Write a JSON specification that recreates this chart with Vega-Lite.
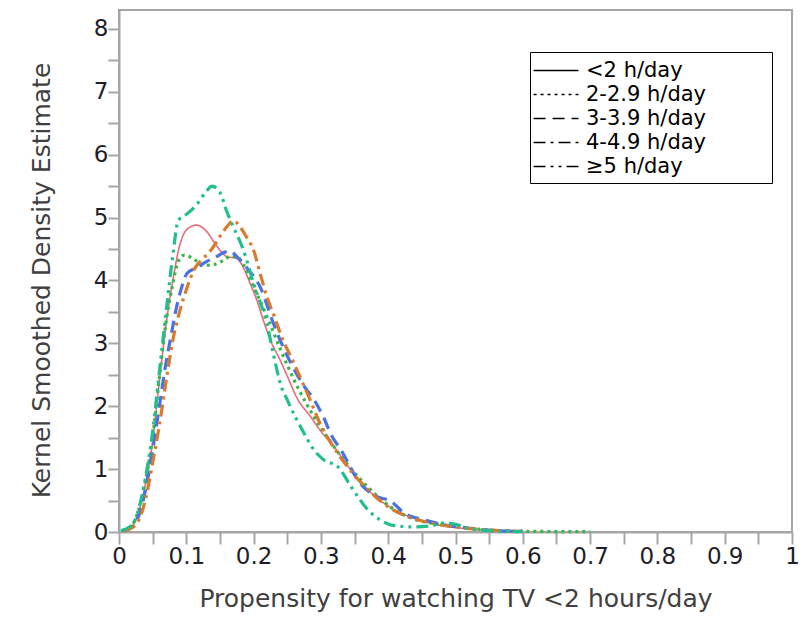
{
  "$schema": "https://vega.github.io/schema/vega-lite/v6.json",
  "autosize": {"type": "none"},
  "width": 673,
  "height": 522,
  "padding": {"left": 119, "top": 10, "right": 19, "bottom": 96},
  "background": "white",
  "config": {
    "view": {"stroke": "#a6a6a6", "strokeWidth": 2},
    "font": "DejaVu Sans",
    "axis": {
      "domainColor": "#a6a6a6", "domainWidth": 2,
      "tickColor": "#a6a6a6", "tickWidth": 2,
      "labelFont": "DejaVu Sans", "labelFontSize": 23, "labelColor": "#1e1e28",
      "titleFont": "DejaVu Sans", "titleFontSize": 25, "titleFontWeight": "normal", "titleColor": "#404040",
      "grid": false, "labelOverlap": false, "labelFlush": false
    }
  },
  "data": {"values": [
    {"g": "<2 h/day", "x": 0.005, "y": 0.02},
    {"g": "<2 h/day", "x": 0.02, "y": 0.1},
    {"g": "<2 h/day", "x": 0.03, "y": 0.35},
    {"g": "<2 h/day", "x": 0.04, "y": 0.8},
    {"g": "<2 h/day", "x": 0.05, "y": 1.45},
    {"g": "<2 h/day", "x": 0.06, "y": 2.4},
    {"g": "<2 h/day", "x": 0.07, "y": 3.3},
    {"g": "<2 h/day", "x": 0.08, "y": 4.0},
    {"g": "<2 h/day", "x": 0.09, "y": 4.55},
    {"g": "<2 h/day", "x": 0.1, "y": 4.8},
    {"g": "<2 h/day", "x": 0.115, "y": 4.88},
    {"g": "<2 h/day", "x": 0.13, "y": 4.78},
    {"g": "<2 h/day", "x": 0.145, "y": 4.55},
    {"g": "<2 h/day", "x": 0.16, "y": 4.38},
    {"g": "<2 h/day", "x": 0.175, "y": 4.35},
    {"g": "<2 h/day", "x": 0.185, "y": 4.2},
    {"g": "<2 h/day", "x": 0.195, "y": 3.95},
    {"g": "<2 h/day", "x": 0.205, "y": 3.68},
    {"g": "<2 h/day", "x": 0.215, "y": 3.35},
    {"g": "<2 h/day", "x": 0.225, "y": 3.05},
    {"g": "<2 h/day", "x": 0.24, "y": 2.72},
    {"g": "<2 h/day", "x": 0.25, "y": 2.48},
    {"g": "<2 h/day", "x": 0.265, "y": 2.12},
    {"g": "<2 h/day", "x": 0.285, "y": 1.83},
    {"g": "<2 h/day", "x": 0.3, "y": 1.6},
    {"g": "<2 h/day", "x": 0.32, "y": 1.35},
    {"g": "<2 h/day", "x": 0.34, "y": 1.05},
    {"g": "<2 h/day", "x": 0.36, "y": 0.78},
    {"g": "<2 h/day", "x": 0.38, "y": 0.57},
    {"g": "<2 h/day", "x": 0.405, "y": 0.38},
    {"g": "<2 h/day", "x": 0.43, "y": 0.25},
    {"g": "<2 h/day", "x": 0.45, "y": 0.18},
    {"g": "<2 h/day", "x": 0.48, "y": 0.1},
    {"g": "<2 h/day", "x": 0.52, "y": 0.05},
    {"g": "<2 h/day", "x": 0.56, "y": 0.02},
    {"g": "<2 h/day", "x": 0.6, "y": 0.01},

    {"g": "2-2.9 h/day", "x": 0.004, "y": 0.02},
    {"g": "2-2.9 h/day", "x": 0.02, "y": 0.12},
    {"g": "2-2.9 h/day", "x": 0.03, "y": 0.38},
    {"g": "2-2.9 h/day", "x": 0.04, "y": 0.85},
    {"g": "2-2.9 h/day", "x": 0.05, "y": 1.5},
    {"g": "2-2.9 h/day", "x": 0.06, "y": 2.45},
    {"g": "2-2.9 h/day", "x": 0.07, "y": 3.35},
    {"g": "2-2.9 h/day", "x": 0.08, "y": 3.95},
    {"g": "2-2.9 h/day", "x": 0.088, "y": 4.3},
    {"g": "2-2.9 h/day", "x": 0.096, "y": 4.4},
    {"g": "2-2.9 h/day", "x": 0.11, "y": 4.35},
    {"g": "2-2.9 h/day", "x": 0.125, "y": 4.24},
    {"g": "2-2.9 h/day", "x": 0.14, "y": 4.25},
    {"g": "2-2.9 h/day", "x": 0.155, "y": 4.32},
    {"g": "2-2.9 h/day", "x": 0.165, "y": 4.38},
    {"g": "2-2.9 h/day", "x": 0.176, "y": 4.37},
    {"g": "2-2.9 h/day", "x": 0.185, "y": 4.25},
    {"g": "2-2.9 h/day", "x": 0.2, "y": 3.9},
    {"g": "2-2.9 h/day", "x": 0.22, "y": 3.42},
    {"g": "2-2.9 h/day", "x": 0.24, "y": 2.9},
    {"g": "2-2.9 h/day", "x": 0.265, "y": 2.31},
    {"g": "2-2.9 h/day", "x": 0.29, "y": 1.83},
    {"g": "2-2.9 h/day", "x": 0.31, "y": 1.5},
    {"g": "2-2.9 h/day", "x": 0.33, "y": 1.2},
    {"g": "2-2.9 h/day", "x": 0.355, "y": 0.88},
    {"g": "2-2.9 h/day", "x": 0.385, "y": 0.56},
    {"g": "2-2.9 h/day", "x": 0.41, "y": 0.35},
    {"g": "2-2.9 h/day", "x": 0.44, "y": 0.2},
    {"g": "2-2.9 h/day", "x": 0.47, "y": 0.13},
    {"g": "2-2.9 h/day", "x": 0.5, "y": 0.09},
    {"g": "2-2.9 h/day", "x": 0.53, "y": 0.05},
    {"g": "2-2.9 h/day", "x": 0.57, "y": 0.02},
    {"g": "2-2.9 h/day", "x": 0.62, "y": 0.01},
    {"g": "2-2.9 h/day", "x": 0.7, "y": 0.005},

    {"g": "3-3.9 h/day", "x": 0.006, "y": 0.02},
    {"g": "3-3.9 h/day", "x": 0.02, "y": 0.09},
    {"g": "3-3.9 h/day", "x": 0.03, "y": 0.28},
    {"g": "3-3.9 h/day", "x": 0.04, "y": 0.7},
    {"g": "3-3.9 h/day", "x": 0.05, "y": 1.3},
    {"g": "3-3.9 h/day", "x": 0.06, "y": 2.0},
    {"g": "3-3.9 h/day", "x": 0.07, "y": 2.7},
    {"g": "3-3.9 h/day", "x": 0.077, "y": 3.1},
    {"g": "3-3.9 h/day", "x": 0.084, "y": 3.5},
    {"g": "3-3.9 h/day", "x": 0.092, "y": 3.85},
    {"g": "3-3.9 h/day", "x": 0.101, "y": 4.11},
    {"g": "3-3.9 h/day", "x": 0.115, "y": 4.2},
    {"g": "3-3.9 h/day", "x": 0.13, "y": 4.3},
    {"g": "3-3.9 h/day", "x": 0.145, "y": 4.38},
    {"g": "3-3.9 h/day", "x": 0.155, "y": 4.44},
    {"g": "3-3.9 h/day", "x": 0.165, "y": 4.47},
    {"g": "3-3.9 h/day", "x": 0.175, "y": 4.38},
    {"g": "3-3.9 h/day", "x": 0.19, "y": 4.2},
    {"g": "3-3.9 h/day", "x": 0.21, "y": 3.89},
    {"g": "3-3.9 h/day", "x": 0.23, "y": 3.3},
    {"g": "3-3.9 h/day", "x": 0.25, "y": 2.8},
    {"g": "3-3.9 h/day", "x": 0.275, "y": 2.32},
    {"g": "3-3.9 h/day", "x": 0.29, "y": 2.1},
    {"g": "3-3.9 h/day", "x": 0.305, "y": 1.8},
    {"g": "3-3.9 h/day", "x": 0.315, "y": 1.55},
    {"g": "3-3.9 h/day", "x": 0.33, "y": 1.3},
    {"g": "3-3.9 h/day", "x": 0.36, "y": 0.75},
    {"g": "3-3.9 h/day", "x": 0.38, "y": 0.58},
    {"g": "3-3.9 h/day", "x": 0.405, "y": 0.48},
    {"g": "3-3.9 h/day", "x": 0.424, "y": 0.3},
    {"g": "3-3.9 h/day", "x": 0.454, "y": 0.19},
    {"g": "3-3.9 h/day", "x": 0.48, "y": 0.12},
    {"g": "3-3.9 h/day", "x": 0.52, "y": 0.06},
    {"g": "3-3.9 h/day", "x": 0.56, "y": 0.02},
    {"g": "3-3.9 h/day", "x": 0.6, "y": 0.01},

    {"g": "4-4.9 h/day", "x": 0.008, "y": 0.02},
    {"g": "4-4.9 h/day", "x": 0.02, "y": 0.07},
    {"g": "4-4.9 h/day", "x": 0.03, "y": 0.2},
    {"g": "4-4.9 h/day", "x": 0.04, "y": 0.55},
    {"g": "4-4.9 h/day", "x": 0.05, "y": 1.1},
    {"g": "4-4.9 h/day", "x": 0.06, "y": 1.7},
    {"g": "4-4.9 h/day", "x": 0.07, "y": 2.4},
    {"g": "4-4.9 h/day", "x": 0.08, "y": 3.05},
    {"g": "4-4.9 h/day", "x": 0.09, "y": 3.5},
    {"g": "4-4.9 h/day", "x": 0.1, "y": 3.85},
    {"g": "4-4.9 h/day", "x": 0.113, "y": 4.2},
    {"g": "4-4.9 h/day", "x": 0.125, "y": 4.35},
    {"g": "4-4.9 h/day", "x": 0.138, "y": 4.5},
    {"g": "4-4.9 h/day", "x": 0.15, "y": 4.7},
    {"g": "4-4.9 h/day", "x": 0.16, "y": 4.85},
    {"g": "4-4.9 h/day", "x": 0.17, "y": 4.95},
    {"g": "4-4.9 h/day", "x": 0.18, "y": 4.85},
    {"g": "4-4.9 h/day", "x": 0.19, "y": 4.68},
    {"g": "4-4.9 h/day", "x": 0.2, "y": 4.48},
    {"g": "4-4.9 h/day", "x": 0.21, "y": 4.1},
    {"g": "4-4.9 h/day", "x": 0.22, "y": 3.73},
    {"g": "4-4.9 h/day", "x": 0.23, "y": 3.45},
    {"g": "4-4.9 h/day", "x": 0.24, "y": 3.15},
    {"g": "4-4.9 h/day", "x": 0.26, "y": 2.68},
    {"g": "4-4.9 h/day", "x": 0.28, "y": 2.2},
    {"g": "4-4.9 h/day", "x": 0.3, "y": 1.7},
    {"g": "4-4.9 h/day", "x": 0.325, "y": 1.25},
    {"g": "4-4.9 h/day", "x": 0.35, "y": 0.9},
    {"g": "4-4.9 h/day", "x": 0.375, "y": 0.62},
    {"g": "4-4.9 h/day", "x": 0.4, "y": 0.4},
    {"g": "4-4.9 h/day", "x": 0.43, "y": 0.24},
    {"g": "4-4.9 h/day", "x": 0.46, "y": 0.15},
    {"g": "4-4.9 h/day", "x": 0.5, "y": 0.08},
    {"g": "4-4.9 h/day", "x": 0.55, "y": 0.03},
    {"g": "4-4.9 h/day", "x": 0.6, "y": 0.01},

    {"g": "≥5 h/day", "x": 0.003, "y": 0.02},
    {"g": "≥5 h/day", "x": 0.02, "y": 0.12},
    {"g": "≥5 h/day", "x": 0.03, "y": 0.4},
    {"g": "≥5 h/day", "x": 0.04, "y": 0.9},
    {"g": "≥5 h/day", "x": 0.05, "y": 1.6},
    {"g": "≥5 h/day", "x": 0.06, "y": 2.55},
    {"g": "≥5 h/day", "x": 0.07, "y": 3.5},
    {"g": "≥5 h/day", "x": 0.08, "y": 4.4},
    {"g": "≥5 h/day", "x": 0.088, "y": 4.95},
    {"g": "≥5 h/day", "x": 0.1, "y": 5.05},
    {"g": "≥5 h/day", "x": 0.115, "y": 5.2},
    {"g": "≥5 h/day", "x": 0.13, "y": 5.42},
    {"g": "≥5 h/day", "x": 0.138, "y": 5.5},
    {"g": "≥5 h/day", "x": 0.15, "y": 5.4},
    {"g": "≥5 h/day", "x": 0.16, "y": 5.1},
    {"g": "≥5 h/day", "x": 0.17, "y": 4.85},
    {"g": "≥5 h/day", "x": 0.185, "y": 4.48},
    {"g": "≥5 h/day", "x": 0.2, "y": 3.95},
    {"g": "≥5 h/day", "x": 0.22, "y": 3.3},
    {"g": "≥5 h/day", "x": 0.23, "y": 2.8},
    {"g": "≥5 h/day", "x": 0.24, "y": 2.35},
    {"g": "≥5 h/day", "x": 0.25, "y": 2.1},
    {"g": "≥5 h/day", "x": 0.275, "y": 1.57},
    {"g": "≥5 h/day", "x": 0.29, "y": 1.3},
    {"g": "≥5 h/day", "x": 0.305, "y": 1.14},
    {"g": "≥5 h/day", "x": 0.325, "y": 1.04},
    {"g": "≥5 h/day", "x": 0.345, "y": 0.72},
    {"g": "≥5 h/day", "x": 0.37, "y": 0.35},
    {"g": "≥5 h/day", "x": 0.39, "y": 0.18},
    {"g": "≥5 h/day", "x": 0.405, "y": 0.11},
    {"g": "≥5 h/day", "x": 0.44, "y": 0.08},
    {"g": "≥5 h/day", "x": 0.465, "y": 0.1},
    {"g": "≥5 h/day", "x": 0.48, "y": 0.14},
    {"g": "≥5 h/day", "x": 0.497, "y": 0.13},
    {"g": "≥5 h/day", "x": 0.52, "y": 0.06},
    {"g": "≥5 h/day", "x": 0.55, "y": 0.02},
    {"g": "≥5 h/day", "x": 0.6, "y": 0.005}
  ]},
  "mark": {"type": "line", "interpolate": "monotone", "strokeCap": "butt"},
  "encoding": {
    "x": {
      "field": "x", "type": "quantitative",
      "scale": {"domain": [0, 1], "nice": false, "zero": false},
      "axis": {
        "title": "Propensity for watching TV <2 hours/day",
        "values": [0,0.05,0.1,0.15,0.2,0.25,0.3,0.35,0.4,0.45,0.5,0.55,0.6,0.65,0.7,0.75,0.8,0.85,0.9,0.95,1],
        "format": "~g",
        "labelExpr": "round(datum.value*20) % 2 == 0 ? datum.label : ''",
        "tickSize": 12,
        "labelPadding": 1,
        "titlePadding": 18,
        "encode": {"ticks": {"update": {"y2": {"signal": "round(datum.value*20) % 2 == 0 ? 12 : 5"}}}}
      }
    },
    "y": {
      "field": "y", "type": "quantitative",
      "scale": {"domain": [0, 8.3], "nice": false},
      "axis": {
        "title": "Kernel Smoothed Density Estimate",
        "values": [0,0.5,1,1.5,2,2.5,3,3.5,4,4.5,5,5.5,6,6.5,7,7.5,8],
        "format": "~g",
        "labelExpr": "round(datum.value*2) % 2 == 0 ? datum.label : ''",
        "tickSize": 11,
        "labelPadding": 0,
        "titlePadding": 39,
        "titleY": 270,
        "encode": {"ticks": {"update": {"x2": {"signal": "round(datum.value*2) % 2 == 0 ? -11 : -5"}}}}
      }
    },
    "color": {
      "field": "g", "type": "nominal", "legend": null,
      "scale": {
        "range": ["#3cb54a", "#4a72e2", "#d97a2c", "#e86c78", "#22bf8e"]
      }
    },
    "strokeWidth": {
      "condition": {"test": "datum.g == '<2 h/day'", "value": 1.6},
      "value": 3.2
    },
    "strokeDash": {
      "field": "g", "type": "nominal",
      "scale": {
        "domain": ["<2 h/day", "2-2.9 h/day", "3-3.9 h/day", "4-4.9 h/day", "≥5 h/day"],
        "range": [[1, 0], [3, 4], [12, 7], [12, 5, 3, 5], [12, 5, 3, 5, 3, 5]]
      },
      "legend": {
        "title": "\u00a0",
        "titleOrient": "right",
        "titlePadding": 60,
        "titleFontSize": 2,
        "titleColor": "white",
        "orient": "none",
        "legendX": 411,
        "legendY": 42,
        "strokeColor": "black",
        "fillColor": "white",
        "padding": 6,
        "symbolType": "M-1.3,0H2.6",
        "symbolSize": 529,
        "symbolStrokeWidth": 1.3,
        "symbolStrokeColor": "black",
        "labelFont": "DejaVu Sans",
        "labelFontSize": 21,
        "labelColor": "black",
        "labelOffset": 25,
        "labelLimit": 400,
        "rowPadding": 1
      }
    }
  }
}
